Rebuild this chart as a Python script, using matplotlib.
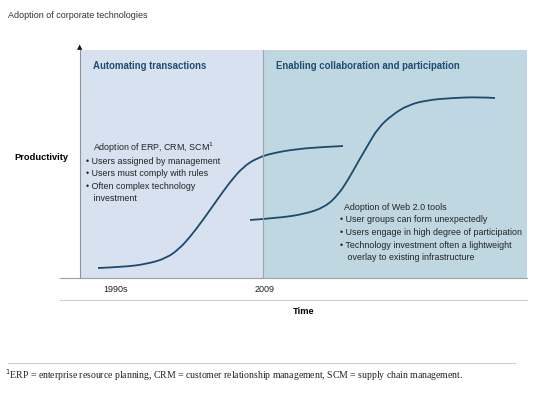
import matplotlib
matplotlib.use("Agg")
import matplotlib.pyplot as plt
from matplotlib import font_manager
from matplotlib.path import Path
from matplotlib.patches import PathPatch

# pick a narrow sans if we have one
names = set(f.name for f in font_manager.fontManager.ttflist)
narrow = "Liberation Sans Narrow" if "Liberation Sans Narrow" in names else "Liberation Sans"
plt.rcParams["font.family"] = [narrow, "DejaVu Sans"]

# data (x/y in arbitrary chart units)
erp_x = [18, 43, 67, 87, 100, 110, 123, 137, 150, 163, 177, 193, 217, 243, 263]
erp_y = [10, 11, 14, 20, 30, 41, 58, 78, 96, 111, 120, 125, 129, 131, 132]
web_x = [170, 198, 225, 245, 258, 268, 278, 288, 298, 312, 328, 348, 372, 398, 415]
web_y = [58, 60, 64, 71, 83, 98, 116, 133, 150, 163, 173, 178, 180, 181, 180]
split_x = 183
x_max = 447
y_max = 228

headings = ["Automating transactions", "Enabling collaboration and participation"]
left_head = "Adoption of ERP, CRM, SCM$^1$"
left_bullets = ["\u2022 Users assigned by management",
                "\u2022 Users must comply with rules",
                "\u2022 Often complex technology",
                "   investment"]
right_head = "Adoption of Web 2.0 tools"
right_bullets = ["\u2022 User groups can form unexpectedly",
                 "\u2022 Users engage in high degree of participation",
                 "\u2022 Technology investment often a lightweight",
                 "   overlay to existing infrastructure"]
tick_labels = ["1990s", "2009"]
footnote = ("$^1$ERP = enterprise resource planning, CRM = customer relationship management, "
            "SCM = supply chain management.")

W, H = 545, 394
fig = plt.figure(figsize=(W / 100, H / 100), dpi=100)

def fx(px):
    return px / W

def fy(py):
    return 1 - py / H

def smooth_path(xs, ys):
    # quadratic bezier through midpoints, points used as control points
    verts = [(xs[0], ys[0])]
    codes = [Path.MOVETO]
    for i in range(1, len(xs) - 1):
        mx = (xs[i] + xs[i + 1]) / 2
        my = (ys[i] + ys[i + 1]) / 2
        if i == len(xs) - 2:
            mx, my = xs[-1], ys[-1]
        verts += [(xs[i], ys[i]), (mx, my)]
        codes += [Path.CURVE3, Path.CURVE3]
    return Path(verts, codes)

ax = fig.add_axes([fx(80), fy(278), fx(527) - fx(80), fy(50) - fy(278)])
ax.set_xlim(0, x_max)
ax.set_ylim(0, y_max)
ax.axvspan(0, split_x, color="#d8e1f0", lw=0)
ax.axvspan(split_x, x_max, color="#bfd7e1", lw=0)
ax.axvline(split_x, color="#9aa7ae", lw=0.8)

line_col = "#1d4a6b"
for xs, ys in [(erp_x, erp_y), (web_x, web_y)]:
    ax.add_patch(PathPatch(smooth_path(xs, ys), fill=False, edgecolor=line_col, lw=1.3,
                           capstyle="butt"))

for s in ["top", "right", "bottom"]:
    ax.spines[s].set_visible(False)
ax.spines["left"].set_color("#8a949a")
ax.spines["left"].set_linewidth(0.8)
ax.set_xticks([])
ax.set_yticks([])

head_col = "#1f4d72"
ax.text(13, 212, headings[0], color=head_col, fontsize=6.9, fontweight="bold", va="center")
ax.text(196, 212, headings[1], color=head_col, fontsize=6.9, fontweight="bold", va="center")

txt_col = "#222222"
ax.text(13, 130, left_head, fontsize=6.4, color=txt_col, va="center")
for i, t in enumerate(left_bullets):
    ax.text(6, 117 - i * 12.6, t, fontsize=6.4, color=txt_col, va="center")
ax.text(264, 71, right_head, fontsize=6.4, color=txt_col, va="center")
for i, t in enumerate(right_bullets):
    ax.text(260, 58 - i * 12.6, t, fontsize=6.4, color=txt_col, va="center")

# arrow head at top of y axis
fig.text(fx(80), fy(47), "\u25b2", fontsize=5, ha="center", va="center", color="#111111",
         family="DejaVu Sans")

# frame lines
fig.add_artist(plt.Line2D([fx(60), fx(527)], [fy(278), fy(278)], color="#a0a0a0", lw=0.8))
fig.add_artist(plt.Line2D([fx(60), fx(527)], [fy(300), fy(300)], color="#d0d0d0", lw=0.8))
fig.add_artist(plt.Line2D([fx(8), fx(515)], [fy(363), fy(363)], color="#d0d0d0", lw=0.8))

fig.text(fx(8), fy(16), "Adoption of corporate technologies", fontsize=6.5, color="#333333", va="center")
fig.text(fx(14), fy(158), "Productivity", fontsize=6.7, fontweight="bold", va="center")
fig.text(fx(116), fy(290), tick_labels[0], fontsize=6.5, ha="center", va="center", color=txt_col)
fig.text(fx(265), fy(290), tick_labels[1], fontsize=6.5, ha="center", va="center", color=txt_col)
fig.text(fx(304), fy(311), "Time", fontsize=6.7, fontweight="bold", ha="center", va="center")
fig.text(fx(5), fy(375), footnote, fontsize=7, family=["Liberation Serif", "DejaVu Serif"],
         va="center", color=txt_col)

fig.savefig("out.png", dpi=100)
